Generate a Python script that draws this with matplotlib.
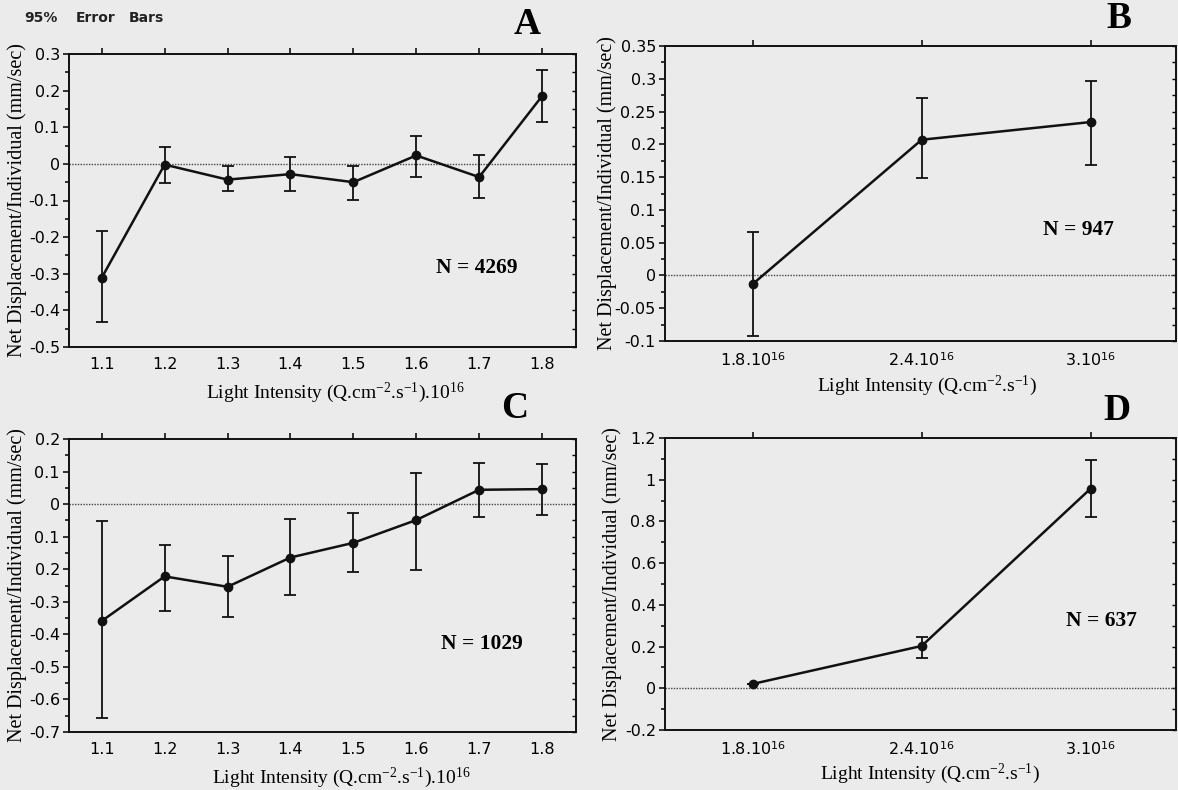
import numpy as np
import matplotlib
matplotlib.use("Agg")
import matplotlib.pyplot as plt
from matplotlib.ticker import MultipleLocator, FuncFormatter, FixedLocator, FixedFormatter

plt.rcParams["mathtext.fontset"] = "custom"
plt.rcParams["mathtext.rm"] = "Liberation Serif"
plt.rcParams["mathtext.it"] = "Liberation Serif:italic"
plt.rcParams["mathtext.sf"] = "DejaVu Sans"

# panel A: light intensity 1.1-1.8 x10^16
a_x = [1.1, 1.2, 1.3, 1.4, 1.5, 1.6, 1.7, 1.8]
a_mean = [-0.311, -0.002, -0.043, -0.028, -0.050, 0.023, -0.036, 0.185]
a_low = [-0.431, -0.051, -0.073, -0.073, -0.098, -0.035, -0.092, 0.115]
a_high = [-0.183, 0.045, -0.007, 0.020, -0.005, 0.077, 0.025, 0.255]

# panel B: three intensities
b_labels = [r"1.8.10$^{\mathsf{16}}$", r"2.4.10$^{\mathsf{16}}$", r"3.10$^{\mathsf{16}}$"]
b_mean = [-0.013, 0.207, 0.234]
b_low = [-0.092, 0.149, 0.169]
b_high = [0.067, 0.270, 0.297]

# panel C
c_x = [1.1, 1.2, 1.3, 1.4, 1.5, 1.6, 1.7, 1.8]
c_mean = [-0.359, -0.222, -0.254, -0.164, -0.119, -0.049, 0.044, 0.046]
c_low = [-0.658, -0.328, -0.346, -0.280, -0.207, -0.202, -0.039, -0.034]
c_high = [-0.053, -0.126, -0.160, -0.046, -0.026, 0.097, 0.127, 0.122]
c_yticklabels = ["0.2", "0.1", "0", "0.1", "0.2", "-0.3", "-0.4", "-0.5", "-0.6", "-0.7"]

# panel D
d_labels = b_labels
d_mean = [0.021, 0.203, 0.957]
d_low = [0.021, 0.147, 0.822]
d_high = [0.021, 0.248, 1.094]

bg = "#ebebeb"
W, H = 1178, 790
fig = plt.figure(figsize=(W / 100, H / 100), dpi=100, facecolor=bg)


def px_axes(left, top, right, bottom):
    return fig.add_axes([left / W, 1 - bottom / H, (right - left) / W, (bottom - top) / H])


axA = px_axes(69, 54, 576, 347)
axB = px_axes(665, 46, 1176, 341)
axC = px_axes(69, 439, 576, 732)
axD = px_axes(665, 438, 1176, 730)

TICK = 11.5
ylab = "Net Displacement/Individual (mm/sec)"
xlab_ac = r"Light Intensity (Q.cm$^{-2}$.s$^{-1}$).10$^{16}$"
xlab_bd = r"Light Intensity (Q.cm$^{-2}$.s$^{-1}$)"


def draw(ax, x, mean, low, high):
    mean = np.array(mean)
    yerr = [mean - np.array(low), np.array(high) - mean]
    ax.axhline(0, color="#444444", lw=1.0, ls=(0, (1, 1)), zorder=1)
    ax.errorbar(x, mean, yerr=yerr, fmt="-o", color="#111111", lw=1.8, ms=6,
                capsize=4.5, elinewidth=1.3, capthick=1.3, zorder=3)


def style(ax, ymin, ymax, major, minor, ylabel_x, xlabel_xy, xlabel):
    ax.set_facecolor(bg)
    ax.set_ylim(ymin, ymax)
    ax.yaxis.set_major_locator(MultipleLocator(major))
    ax.yaxis.set_minor_locator(MultipleLocator(minor))
    ax.yaxis.set_major_formatter(FuncFormatter(lambda v, p: "%g" % round(v, 3)))
    for s in ax.spines.values():
        s.set_linewidth(1.4)
        s.set_color("#111111")
    ax.tick_params(axis="y", which="both", left=True, right=False, direction="out",
                   labelsize=TICK, width=1.1, pad=2.5)
    ax.tick_params(axis="y", which="major", length=4)
    ax.tick_params(axis="y", which="minor", length=3)
    ax.tick_params(axis="x", which="both", bottom=False, top=True, labelbottom=True,
                   direction="out", length=4, width=1.1, labelsize=TICK, pad=3.5)
    # inward ticks on the right spine
    sec = ax.secondary_yaxis("right")
    sec.yaxis.set_major_locator(MultipleLocator(major))
    sec.yaxis.set_minor_locator(MultipleLocator(minor))
    sec.tick_params(which="both", direction="in", length=3, width=1.0, labelright=False)
    sec.spines["right"].set_visible(False)
    ax.set_ylabel(ylab, family="Liberation Serif", fontsize=14.5)
    ax.yaxis.set_label_coords(ylabel_x, 0.5)
    ax.yaxis.label.set_verticalalignment("center")
    ax.set_xlabel(xlabel, family="Liberation Serif", fontsize=14)
    ax.xaxis.set_label_coords(*xlabel_xy)
    ax.xaxis.label.set_verticalalignment("center")


# A
draw(axA, a_x, a_mean, a_low, a_high)
axA.set_xlim(1.048, 1.854)
axA.set_xticks(a_x)
axA.set_xticklabels([("%g" % v) for v in a_x])
style(axA, -0.5, 0.3, 0.1, 0.05, -0.1026, (0.525, -0.158), xlab_ac)
axA.text(0.805, 0.27, "N = 4269", transform=axA.transAxes, ha="center", va="center",
         family="Liberation Serif", weight="bold", fontsize=15.5)

# B
bx = np.arange(len(b_mean))
draw(axB, bx, b_mean, b_low, b_high)
axB.set_xlim(-0.52, 2.506)
axB.set_xticks(bx)
axB.set_xticklabels(b_labels)
style(axB, -0.1, 0.35, 0.05, 0.025, -0.1135, (0.513, -0.152), xlab_bd)
axB.text(0.81, 0.375, "N = 947", transform=axB.transAxes, ha="center", va="center",
         family="Liberation Serif", weight="bold", fontsize=15.5)

# C
draw(axC, c_x, c_mean, c_low, c_high)
axC.set_xlim(1.048, 1.854)
axC.set_xticks(c_x)
axC.set_xticklabels([("%g" % v) for v in c_x])
style(axC, -0.7, 0.2, 0.1, 0.05, -0.1026, (0.537, -0.156), xlab_ac)
cticks = np.arange(0.2, -0.75, -0.1)
axC.yaxis.set_major_locator(FixedLocator(cticks))
axC.yaxis.set_major_formatter(FixedFormatter(c_yticklabels))
axC.text(0.815, 0.3, "N = 1029", transform=axC.transAxes, ha="center", va="center",
         family="Liberation Serif", weight="bold", fontsize=15.5)

# D
dx = np.arange(len(d_mean))
draw(axD, dx, d_mean, d_low, d_high)
axD.set_xlim(-0.52, 2.506)
axD.set_xticks(dx)
axD.set_xticklabels(d_labels)
style(axD, -0.2, 1.2, 0.2, 0.1, -0.103, (0.519, -0.15), xlab_bd)
axD.text(0.855, 0.375, "N = 637", transform=axD.transAxes, ha="center", va="center",
         family="Liberation Serif", weight="bold", fontsize=15.5)

for ax in (axA, axB, axC, axD):
    for lab in ax.get_xticklabels() + ax.get_yticklabels():
        lab.set_family("DejaVu Sans")
        lab.set_fontsize(TICK)

# panel letters and header
for letter, (lx, ly) in zip("ABCD", [(527, 25), (1119, 19), (515, 408), (1117, 410)]):
    fig.text(lx / W, 1 - ly / H, letter, ha="center", va="center",
             family="Liberation Serif", weight="bold", fontsize=27)
for word, hx in [("95%", 24), ("Error", 76), ("Bars", 129)]:
    fig.text(hx / W, 1 - 18 / H, word, ha="left", va="center",
             family="DejaVu Sans", fontsize=10, weight="bold", color="#222222")

fig.savefig("out.png", dpi=100, facecolor=bg)
